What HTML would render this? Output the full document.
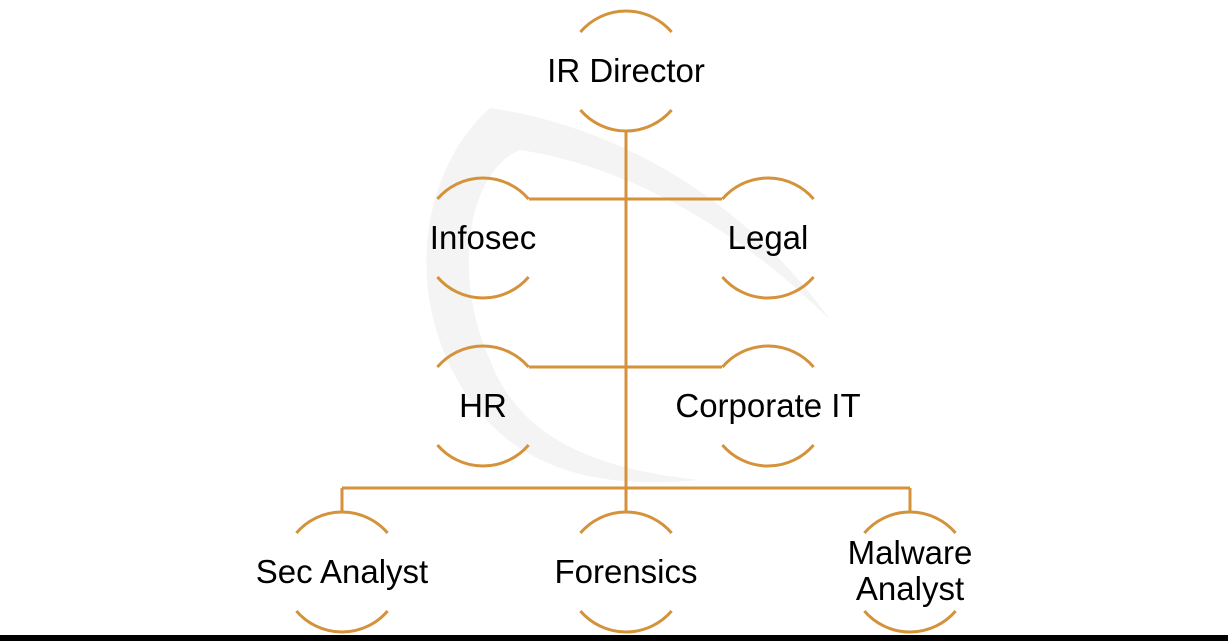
<!DOCTYPE html>
<html><head><meta charset="utf-8"><style>
html,body{margin:0;padding:0;background:#fff;}
svg{display:block;}
text{font-family:"Liberation Sans",Arial,sans-serif;font-size:33px;fill:#000;text-anchor:middle;}
</style></head><body>
<svg width="1228" height="641" viewBox="0 0 1228 641" xmlns="http://www.w3.org/2000/svg">
<path d="M490 108 C 420 170, 400 300, 470 400 C 520 470, 600 490, 700 480 C 600 470, 520 440, 490 360 C 450 270, 470 170, 520 150 C 650 170, 760 250, 830 320 C 760 220, 640 130, 490 108 Z" fill="#f4f4f4"/>
<g fill="none" stroke="#D4923A" stroke-width="3">
<path d="M626 130 V513"/>
<path d="M529 199 H722"/>
<path d="M529 367 H722"/>
<path d="M342 488 H910"/>
<path d="M342 488 V513 M910 488 V513"/>
</g>
<g fill="none" stroke="#D4923A" stroke-width="3">
<path d="M580.4 32 A60 60 0 0 1 671.6 32"/>
<path d="M580.4 110 A60 60 0 0 0 671.6 110"/>
<path d="M437.4 199 A60 60 0 0 1 528.6 199"/>
<path d="M437.4 277 A60 60 0 0 0 528.6 277"/>
<path d="M722.4 199 A60 60 0 0 1 813.6 199"/>
<path d="M722.4 277 A60 60 0 0 0 813.6 277"/>
<path d="M437.4 367 A60 60 0 0 1 528.6 367"/>
<path d="M437.4 445 A60 60 0 0 0 528.6 445"/>
<path d="M722.4 367 A60 60 0 0 1 813.6 367"/>
<path d="M722.4 445 A60 60 0 0 0 813.6 445"/>
<path d="M296.4 533 A60 60 0 0 1 387.6 533"/>
<path d="M296.4 611 A60 60 0 0 0 387.6 611"/>
<path d="M580.4 533 A60 60 0 0 1 671.6 533"/>
<path d="M580.4 611 A60 60 0 0 0 671.6 611"/>
<path d="M864.4 533 A60 60 0 0 1 955.6 533"/>
<path d="M864.4 611 A60 60 0 0 0 955.6 611"/>
</g>
<text x="626" y="82">IR Director</text>
<text x="483" y="249">Infosec</text>
<text x="768" y="249">Legal</text>
<text x="483" y="417">HR</text>
<text x="768" y="417">Corporate IT</text>
<text x="342" y="583">Sec Analyst</text>
<text x="626" y="583">Forensics</text>
<text x="910" y="564">Malware</text>
<text x="910" y="600">Analyst</text>
<rect x="0" y="635" width="1228" height="6" fill="#000"/>
</svg>
</body></html>
